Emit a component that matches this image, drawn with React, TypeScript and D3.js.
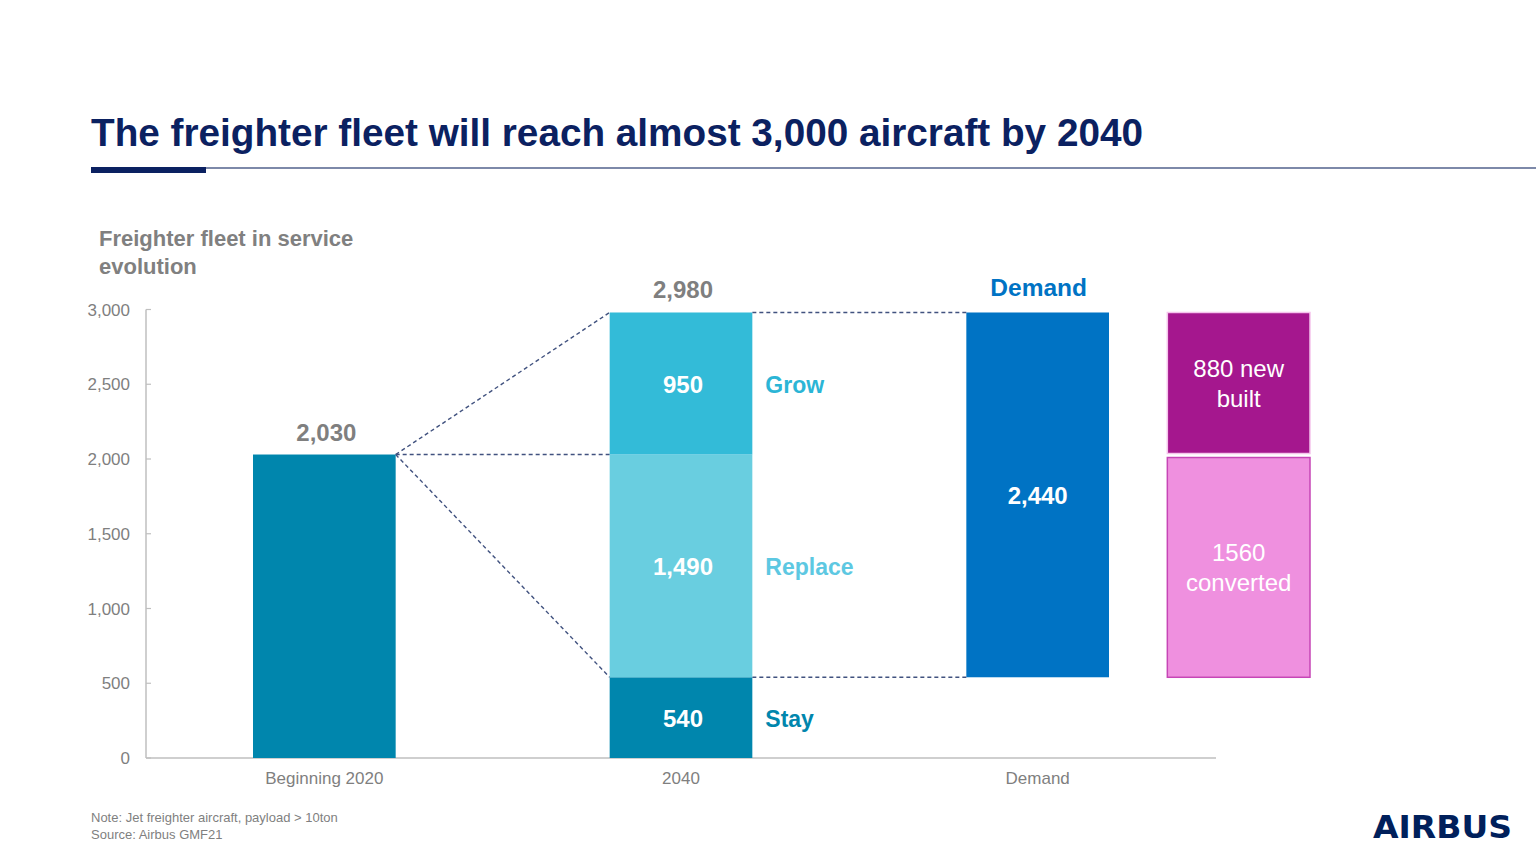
import React from "react";
import * as d3 from "d3";

const categories = ["Beginning 2020", "2040", "Demand"];
const beginningValue = 2030;
const stackLabels = ["Stay", "Replace", "Grow"];
const stackValues = [540, 1490, 950];
const totalLabel = "2,980";
const demandValue = 2440;
const supplyLabels = [["1560", "converted"], ["880 new", "built"]];
const yTicks = [0, 500, 1000, 1500, 2000, 2500, 3000];

const FONT = "'Liberation Sans', Arial, Helvetica, sans-serif";
const NAVY = "#0B2161";
const GRAY = "#7F7F7F";
const stackColors = ["#0086AD", "#69CEE0", "#33BBD8"];
const labelColors = ["#0086AD", "#5DC8E2", "#2BB5D6"];

export default function App() {
  const W = 1536, H = 858;
  const x = d3.scaleBand<string>().domain(categories).range([146, 1216]).paddingInner(0.6).paddingOuter(0.3);
  const y = d3.scaleLinear().domain([0, 3000]).range([758, 309.5]);
  const bw = x.bandwidth();
  const fmt = d3.format(",");

  let acc = 0;
  const segs = stackValues.map((v, i) => {
    const s = { y0: acc, y1: acc + v, v, label: stackLabels[i], color: stackColors[i], lc: labelColors[i] };
    acc += v;
    return s;
  });
  const total = acc;
  const xB = x("Beginning 2020")!;
  const x40 = x("2040")!;
  const xD = x("Demand")!;
  const xS = xD + 201;
  const demandBase = segs[0].y1;

  // supply boxes mirror the replace / grow segments
  const supply = [
    { y0: segs[1].y0, y1: segs[1].y1, fill: "#EF90DF", stroke: "#C646B6", lines: supplyLabels[0] },
    { y0: segs[2].y0, y1: segs[2].y1, fill: "#A5178E", stroke: "#F5C4EC", lines: supplyLabels[1] },
  ];

  const dash = { stroke: "#41527F", strokeWidth: 1.4, strokeDasharray: "4 3", fill: "none" };

  return (
    <svg width={W} height={H} style={{ position: "absolute", left: 0, top: 0, background: "#fff" }} fontFamily={FONT}>
      <rect width={W} height={H} fill="#fff" />
      {/* title */}
      <text x={91} y={146} fontSize={38} fontWeight={700} fill={NAVY} textLength={1052} lengthAdjust="spacingAndGlyphs">
        The freighter fleet will reach almost 3,000 aircraft by 2040
      </text>
      <line x1={91} x2={1536} y1={168} y2={168} stroke="#52628C" strokeWidth={1.5} />
      <rect x={91} y={167} width={115} height={6} fill={NAVY} />

      {/* subtitle */}
      <text x={99} y={246} fontSize={22} fontWeight={700} fill="#808080">Freighter fleet in service</text>
      <text x={99} y={274} fontSize={22} fontWeight={700} fill="#808080">evolution</text>

      {/* axes */}
      <line x1={146} x2={146} y1={y(3000)} y2={y(0)} stroke="#BFBFBF" strokeWidth={1.5} />
      <line x1={146} x2={1216} y1={y(0)} y2={y(0)} stroke="#BFBFBF" strokeWidth={1.5} />
      {yTicks.map((t) => (
        <g key={t}>
          <line x1={146} x2={151} y1={y(t)} y2={y(t)} stroke="#BFBFBF" strokeWidth={1.2} />
          <text x={130} y={y(t) + 6} fontSize={17} fill={GRAY} textAnchor="end">{fmt(t)}</text>
        </g>
      ))}
      {categories.map((c) => (
        <text key={c} x={x(c)! + bw / 2} y={784} fontSize={17} fill={GRAY} textAnchor="middle">{c}</text>
      ))}

      {/* dashed connectors */}
      <line x1={xB + bw} y1={y(beginningValue)} x2={x40} y2={y(total)} {...dash} />
      <line x1={xB + bw} y1={y(beginningValue)} x2={x40} y2={y(segs[2].y0)} {...dash} />
      <line x1={xB + bw} y1={y(beginningValue)} x2={x40} y2={y(segs[0].y1)} {...dash} />
      <line x1={x40 + bw} y1={y(total)} x2={xD} y2={y(total)} {...dash} />
      <line x1={x40 + bw} y1={y(demandBase)} x2={xD} y2={y(demandBase)} {...dash} />

      {/* beginning bar */}
      <rect x={xB} y={y(beginningValue)} width={bw} height={y(0) - y(beginningValue)} fill="#0086AD" />
      <text x={xB + bw / 2 + 2} y={y(beginningValue) - 14} fontSize={24} fontWeight={700} fill={GRAY} textAnchor="middle">{fmt(beginningValue)}</text>

      {/* 2040 stack */}
      {segs.map((s) => (
        <g key={s.label}>
          <rect x={x40} y={y(s.y1)} width={bw} height={y(s.y0) - y(s.y1)} fill={s.color} />
          <text x={x40 + bw / 2 + 2} y={(y(s.y0) + y(s.y1)) / 2 + 9} fontSize={24} fontWeight={700} fill="#fff" textAnchor="middle">{fmt(s.v)}</text>
          <text x={x40 + bw + 13} y={(y(s.y0) + y(s.y1)) / 2 + 9} fontSize={23} fontWeight={700} fill={s.lc}>{s.label}</text>
        </g>
      ))}
      <text x={x40 + bw / 2 + 2} y={y(total) - 14} fontSize={24} fontWeight={700} fill={GRAY} textAnchor="middle">{totalLabel}</text>

      {/* demand bar */}
      <rect x={xD} y={y(demandBase + demandValue)} width={bw} height={y(demandBase) - y(demandBase + demandValue)} fill="#0073C4" />
      <text x={xD + bw / 2} y={(y(demandBase) + y(demandBase + demandValue)) / 2 + 9} fontSize={24} fontWeight={700} fill="#fff" textAnchor="middle">{fmt(demandValue)}</text>
      <text x={xD + bw / 2 + 1} y={y(demandBase + demandValue) - 16} fontSize={24.5} fontWeight={700} fill="#0073C4" textAnchor="middle">Demand</text>

      {/* supply boxes */}
      {supply.map((s, i) => {
        const top = y(s.y1) + (i === 0 ? 3 : 0);
        const bot = y(s.y0) - (i === 0 ? 0 : 1);
        const mid = (top + bot) / 2;
        return (
          <g key={i}>
            <rect x={xS} y={top} width={bw} height={bot - top} fill={s.fill} stroke={s.stroke} strokeWidth={1.5} />
            <text x={xS + bw / 2} y={mid - 6} fontSize={24} fill="#fff" textAnchor="middle">{s.lines[0]}</text>
            <text x={xS + bw / 2} y={mid + 24} fontSize={24} fill="#fff" textAnchor="middle">{s.lines[1]}</text>
          </g>
        );
      })}

      {/* notes */}
      <text x={91} y={822} fontSize={13} fill={GRAY}>Note: Jet freighter aircraft, payload &gt; 10ton</text>
      <text x={91} y={839} fontSize={13} fill={GRAY}>Source: Airbus GMF21</text>

      {/* logo */}
      <text x={1373} y={838} fontSize={32} fontWeight={900} fill="#00205B" textLength={139} lengthAdjust="spacingAndGlyphs" fontFamily="'DejaVu Sans', Arial, sans-serif">AIRBUS</text>
    </svg>
  );
}
